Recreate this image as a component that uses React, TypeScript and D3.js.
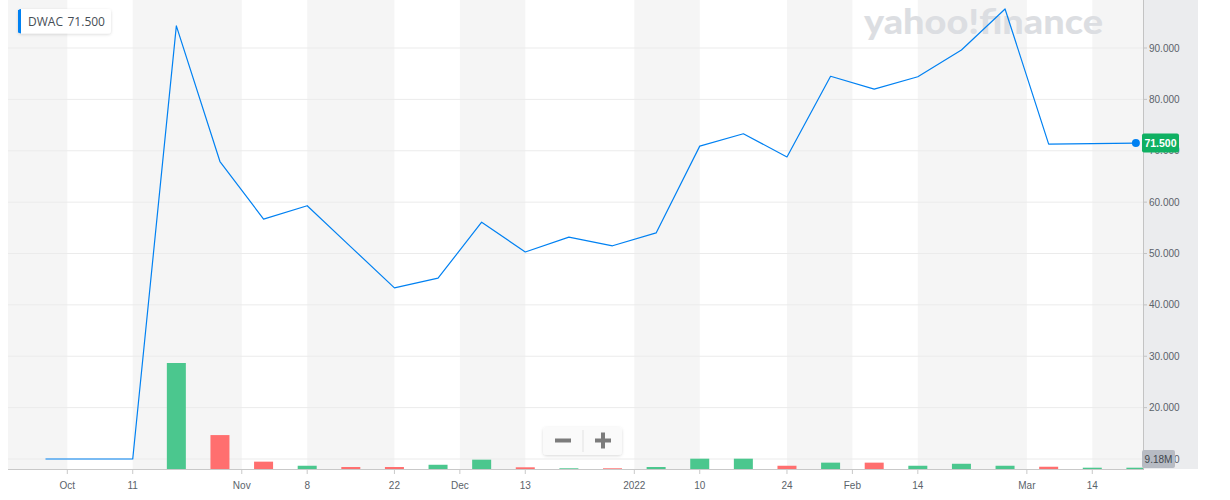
import React from "react";
import * as d3 from "d3";

// Weekly data (week start dates)
const weeks = [
  "2021-09-27", "2021-10-04", "2021-10-11", "2021-10-18", "2021-10-25",
  "2021-11-01", "2021-11-08", "2021-11-15", "2021-11-22", "2021-11-29",
  "2021-12-06", "2021-12-13", "2021-12-20", "2021-12-27", "2022-01-03",
  "2022-01-10", "2022-01-17", "2022-01-24", "2022-01-31", "2022-02-07",
  "2022-02-14", "2022-02-21", "2022-02-28", "2022-03-07", "2022-03-14",
  "2022-03-21",
];
const closes = [
  10.0, 10.0, 10.0, 94.3, 67.9, 56.7, 59.3, 51.3, 43.3, 45.2, 56.1, 50.3, 53.2,
  51.5, 54.0, 70.9, 73.3, 68.8, 84.5, 82.0, 84.4, 89.6, 97.6, 71.3, 71.4, 71.5,
];
// Volumes in millions
const volumesM = [
  0, 0, 0, 750, 240, 52, 23, 14, 14, 30, 66, 12, 5, 5, 14, 73, 73, 23, 45, 45,
  23, 37, 23, 16, 9.18, 9.18,
];
const priceTicks = [10, 20, 30, 40, 50, 60, 70, 80, 90];
const dayTicks = [
  "2021-10-11", "2021-11-08", "2021-11-22", "2021-12-13",
  "2022-01-10", "2022-01-24", "2022-02-14", "2022-03-14",
];
const symbol = "DWAC";
const lastPriceLabel = "71.500";
const lastVolumeLabel = "9.18M";
const monthNames = ["Jan", "Feb", "Mar", "Apr", "May", "Jun", "Jul", "Aug", "Sep", "Oct", "Nov", "Dec"];

const W = 1230;
const H = 500;
const plotL = 8;
const plotR = 1143;
const plotT = 0;
const plotB = 469;
const panelR = 1198;

const GREEN = "#4bc78e";
const RED = "#ff6f6f";
const LINE = "#0081f2";
const AXIS_TXT = "#5b636a";
const FONT = "'Liberation Sans', Arial, sans-serif";

export default function App() {
  const parse = d3.timeParse("%Y-%m-%d");
  const dates = weeks.map((w) => parse(w) as Date);

  const x = d3.scaleLinear().domain([0, weeks.length - 1]).range([45.5, 1135.9]);
  const y = d3.scaleLinear().domain([10, 90]).range([459, 48]);
  const yv = d3.scaleLinear().domain([0, 750]).range([plotB, 363]);

  type Tick = { pos: number; label: string };
  const ticks: Tick[] = [];
  dates.forEach((d, i) => {
    if (i === 0) return;
    const prev = dates[i - 1];
    if (d.getMonth() !== prev.getMonth()) {
      const label = d.getMonth() === 0 ? String(d.getFullYear()) : monthNames[d.getMonth()];
      ticks.push({ pos: i - 0.5, label });
    }
  });
  dayTicks.forEach((t) => {
    const i = weeks.indexOf(t);
    if (i >= 0) ticks.push({ pos: i, label: String((parse(t) as Date).getDate()) });
  });
  ticks.sort((a, b) => a.pos - b.pos);

  const bounds = [plotL, ...ticks.map((t) => x(t.pos)), plotR];
  const stripes = bounds.slice(0, -1).map((b, k) => ({ x0: b, x1: bounds[k + 1], gray: k % 2 === 0 }));

  const line = d3
    .line<number>()
    .x((_, i) => x(i))
    .y((v) => y(v));

  const barW = 19;
  const lastI = closes.length - 1;

  return (
    <svg
      width={W}
      height={H}
      style={{ position: "absolute", left: 0, top: 0, background: "#fff" }}
      fontFamily={FONT}
    >
      <defs>
        <clipPath id="plotClip">
          <rect x={plotL} y={plotT} width={plotR - plotL} height={plotB - plotT} />
        </clipPath>
        <filter id="shadow" x="-20%" y="-40%" width="140%" height="180%">
          <feDropShadow dx="0" dy="1" stdDeviation="1.5" floodColor="#000" floodOpacity="0.15" />
        </filter>
      </defs>

      {/* stripes */}
      {stripes.map((s, k) =>
        s.gray ? <rect key={k} x={s.x0} y={plotT} width={s.x1 - s.x0} height={plotB - plotT} fill="#f5f5f5" /> : null
      )}

      {/* gridlines */}
      {priceTicks.map((t) => (
        <line key={t} x1={plotL} x2={plotR} y1={y(t)} y2={y(t)} stroke="#ebebeb" strokeWidth={1} />
      ))}

      {/* watermark */}
      <text
        x={864}
        y={34}
        fontSize={35}
        fontWeight={900}
        fill="#dcdee2"
        textLength={239}
        lengthAdjust="spacingAndGlyphs"
        fontFamily="Lato, 'Open Sans', sans-serif"
      >
        yahoo!finance
      </text>

      {/* volume bars */}
      <g clipPath="url(#plotClip)">
        {volumesM.map((v, i) => {
          if (v <= 0) return null;
          const up = i === 0 ? true : closes[i] >= closes[i - 1];
          return (
            <rect
              key={i}
              x={x(i) - barW / 2}
              y={yv(v)}
              width={barW}
              height={plotB - yv(v)}
              fill={up ? GREEN : RED}
            />
          );
        })}
      </g>

      {/* price line */}
      <path d={line(closes) || ""} fill="none" stroke={LINE} strokeWidth={1.2} strokeLinejoin="round" />

      {/* bottom axis */}
      <line x1={plotL} x2={plotR} y1={plotB + 0.5} y2={plotB + 0.5} stroke="#c9c9c9" strokeWidth={1} />
      {ticks.map((t, k) => (
        <g key={k}>
          <line x1={x(t.pos)} x2={x(t.pos)} y1={plotB} y2={plotB + 5} stroke="#c9c9c9" strokeWidth={1} />
          <text x={x(t.pos)} y={488.5} fontSize={10} fill={AXIS_TXT} textAnchor="middle">
            {t.label}
          </text>
        </g>
      ))}

      {/* right axis panel */}
      <rect x={plotR} y={0} width={panelR - plotR} height={plotB} fill="#ebecee" />
      <line x1={plotR + 0.5} x2={plotR + 0.5} y1={0} y2={plotB + 1} stroke="#c3c3c3" strokeWidth={1} />
      {priceTicks.map((t) => (
        <g key={t}>
          <line x1={plotR} x2={plotR + 4} y1={y(t)} y2={y(t)} stroke="#c3c3c3" />
          <text x={1149} y={y(t) + 3.5} fontSize={10} fill={AXIS_TXT}>
            {d3.format(".3f")(t)}
          </text>
        </g>
      ))}

      {/* last price dot + badge */}
      <circle cx={x(lastI)} cy={y(closes[lastI])} r={4} fill={LINE} />
      <rect x={1142} y={y(closes[lastI]) - 9.5} width={37} height={19} rx={2} fill="#0fb062" />
      <text
        x={1160.5}
        y={y(closes[lastI]) + 3.5}
        fontSize={10.5}
        fontWeight="bold"
        fill="#fff"
        textAnchor="middle"
      >
        {lastPriceLabel}
      </text>

      {/* volume badge */}
      <rect x={1142} y={450} width={33} height={18} rx={2} fill="#b7bbc3" />
      <text x={1158.5} y={462.5} fontSize={10} fill="#41474e" textAnchor="middle">
        {lastVolumeLabel}
      </text>

      {/* legend */}
      <g filter="url(#shadow)">
        <rect x={18} y={9} width={93} height={24.5} rx={3} fill="#fff" />
      </g>
      <path d="M21,9 v24.5 a3,3 0 0 1 -3,-3 v-18.5 a3,3 0 0 1 3,-3 z" fill={LINE} />
      <rect x={18} y={10} width={3} height={22.5} fill={LINE} />
      <text y={26} fontSize={12} fill="#464e56" fontFamily="'Open Sans', 'Noto Sans', sans-serif">
        <tspan x={28}>{symbol}</tspan>
        <tspan x={67.5}>{lastPriceLabel}</tspan>
      </text>

      {/* zoom buttons */}
      <g filter="url(#shadow)">
        <rect x={543} y={427} width={79} height={28} rx={4} fill="#fafafa" />
      </g>
      <line x1={583} x2={583} y1={430} y2={452} stroke="#e2e2e2" />
      <rect x={555} y={438.5} width={16} height={4} fill="#7c7c7c" />
      <rect x={595} y={438.5} width={16} height={4} fill="#7c7c7c" />
      <rect x={601} y={432.5} width={4} height={16} fill="#7c7c7c" />
    </svg>
  );
}
